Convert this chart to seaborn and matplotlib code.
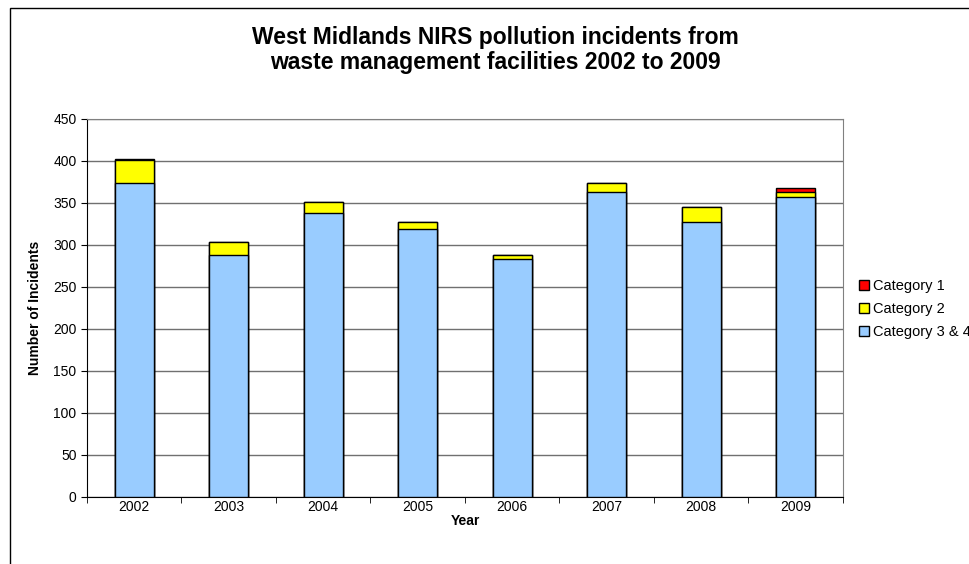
import pandas as pd
import seaborn as sns
import matplotlib
matplotlib.use('Agg')
import matplotlib.pyplot as plt
from matplotlib.patches import Rectangle, Patch

years = ['2002', '2003', '2004', '2005', '2006', '2007', '2008', '2009']
cat34 = [374, 288, 338, 319, 283, 363, 327, 357]
cat2 = [27, 16, 13, 8, 5, 11, 18, 6]
cat1 = [1, 0, 0, 0, 0, 0, 0, 5]

df = pd.DataFrame({'Year': years, 'Category 3 & 4': cat34, 'Category 2': cat2, 'Category 1': cat1})
df['top2'] = df['Category 3 & 4'] + df['Category 2']
df['top1'] = df['top2'] + df['Category 1']

sns.set_style('white')
plt.rcParams['font.family'] = ['Liberation Sans', 'DejaVu Sans']
plt.rcParams['text.color'] = 'black'
plt.rcParams['axes.labelcolor'] = 'black'
plt.rcParams['xtick.color'] = 'black'
plt.rcParams['ytick.color'] = 'black'

fig = plt.figure(figsize=(9.7, 5.64), dpi=100)
ax = fig.add_axes([87/970, 67/564, (843-87)/970, (497-119)/564])

# stacked bars drawn as overlapping totals
sns.barplot(data=df, x='Year', y='top1', color='#FF0000', edgecolor='black', linewidth=1, width=0.41, saturation=1, ax=ax, zorder=3)
sns.barplot(data=df, x='Year', y='top2', color='#FFFF00', edgecolor='black', linewidth=1, width=0.41, saturation=1, ax=ax, zorder=3)
sns.barplot(data=df, x='Year', y='Category 3 & 4', color='#99CCFF', edgecolor='black', linewidth=1, width=0.41, saturation=1, ax=ax, zorder=3)

ax.set_ylim(0, 450)
ax.set_xlim(-0.5, 7.5)
ax.set_yticks(range(0, 451, 50))
ax.yaxis.grid(True, color='#707070', linewidth=1)
ax.set_axisbelow(True)
ax.tick_params(axis='y', labelsize=10, length=4, direction='out', left=True)
ax.tick_params(axis='x', labelsize=10, length=0, pad=2)
ax.set_xticks([i - 0.5 for i in range(9)], minor=True)
ax.tick_params(axis='x', which='minor', length=4, direction='out', bottom=True)

for s in ['top', 'right']:
    ax.spines[s].set_color('#808080')
for s in ['left', 'bottom']:
    ax.spines[s].set_color('black')

ax.set_xlabel('Year', fontsize=10, fontweight='bold', labelpad=0)
ax.set_ylabel('Number of Incidents', fontsize=10, fontweight='bold', labelpad=8)

fig.text(495/970, 1 - 50/564, 'West Midlands NIRS pollution incidents from\nwaste management facilities 2002 to 2009',
         ha='center', va='center', fontsize=16.5, fontweight='bold', linespacing=1.15)

handles = [Patch(facecolor='#FF0000', edgecolor='black', label='Category 1'),
           Patch(facecolor='#FFFF00', edgecolor='black', label='Category 2'),
           Patch(facecolor='#99CCFF', edgecolor='black', label='Category 3 & 4')]
fig.legend(handles=handles, loc='center left', bbox_to_anchor=(853/970, 1 - 309/564), frameon=False,
           fontsize=10.5, handlelength=0.7, handleheight=0.7, handletextpad=0.3, labelspacing=0.6, borderaxespad=0)

fig.patches.append(Rectangle((10/970, -0.1), 2, 1.1 - 8/564, transform=fig.transFigure,
                             fill=False, edgecolor='black', linewidth=1))

plt.savefig('out.png', dpi=100)
